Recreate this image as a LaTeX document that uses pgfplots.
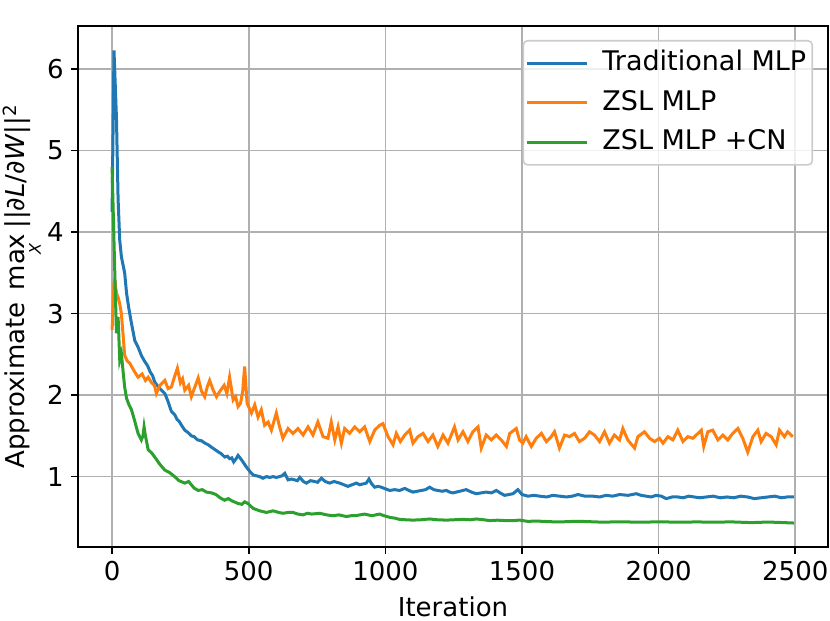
\documentclass[border=0pt]{standalone}
\usepackage{pgfplots}
\pgfplotsset{compat=1.18}
\usepackage{fontspec}
\setmainfont{DejaVu Sans}
\definecolor{C0}{HTML}{1F77B4}
\definecolor{C1}{HTML}{FF7F0E}
\definecolor{C2}{HTML}{2CA02C}
\definecolor{gridgray}{HTML}{B0B0B0}
\definecolor{leggray}{HTML}{CCCCCC}
\newcommand{\fs}{\fontsize{13}{15.6}\selectfont}
\newcommand{\lfs}{\fontsize{13.5}{16}\selectfont}
\newcommand{\maxX}{m\setbox0\hbox{ax}\rlap{ax}\makebox[\wd0]{\raisebox{-8pt}{\fontsize{8}{9}\selectfont\itshape X}}}
\begin{document}
\begin{tikzpicture}
\begin{axis}[
  scale only axis,
  width=375pt, height=260.5pt,
  xmin=-124.75, xmax=2619.75,
  ymin=0.136, ymax=6.53,
  xtick={0,500,1000,1500,2000,2500},
  ytick={1,2,3,4,5,6},
  xtick pos=bottom, ytick pos=left,
  tick align=outside,
  major tick length=3.5pt,
  every tick/.style={black, line width=0.8pt},
  axis line style={black, line width=0.8pt},
  grid=major,
  major grid style={gridgray, line width=0.8pt},
  /pgf/number format/assume math mode=true,
  /pgf/number format/1000 sep={},
  ticklabel style={font=\fs},
  xticklabel style={anchor=north, inner sep=0pt, yshift=-3.5pt},
  yticklabel style={anchor=east, inner sep=0pt, xshift=-3.5pt},
  xlabel={Iteration},
  xlabel style={font=\fs, at={(axis description cs:0.5,0)}, anchor=base, yshift=-34.5pt, inner sep=0pt},
  ylabel={Approximate\hspace{2pt} \maxX\hspace{2.5pt}||\textit{∂L}/\textit{∂W}||\textsuperscript{2}},
  ylabel style={font=\fs, at={(axis description cs:-0.0707,0.5)}, anchor=base, rotate=0, inner sep=0pt},
  legend cell align=left,
  legend style={font=\lfs, at={(axis description cs:1,1)}, anchor=north east, xshift=-7.5pt, yshift=-7pt,
    draw=leggray, line width=0.8pt, rounded corners=2pt, fill=white, fill opacity=0.8, text opacity=1,
    inner xsep=1pt, inner ysep=3pt, row sep=3.25pt, column sep=5pt,
    nodes={inner xsep=2pt, inner ysep=0pt, text height=12pt, text depth=4.5pt}},
  legend image code/.code={\path (0pt,0pt) -- (30pt,0pt); \draw[#1, line width=1.5pt] (2pt,0pt) -- (30pt,0pt);},
]
\addplot[C0, line width=1.5pt] coordinates {
(0,4.25) (7,6.23) (16,5.4) (22,4.4) (28,3.90) (34,3.70) (46,3.5) (53,3.25) (62,3.05) (71,2.88) (83,2.67) (95,2.59) (108,2.48) (120,2.41) (130,2.36) (140,2.28) (148,2.24) (156,2.16) (165,2.12) (175,2.08) (184,2.05) (193,2.02) (205,1.92) (217,1.80) (229,1.76) (238,1.70) (245,1.68) (256,1.62) (266,1.57) (278,1.54) (290,1.50) (300,1.49) (313,1.45) (327,1.44) (340,1.41) (352,1.39) (364,1.36) (377,1.33) (390,1.30) (400,1.28) (412,1.24) (422,1.25) (430,1.22) (438,1.23) (445,1.18) (454,1.22) (461,1.26) (468,1.23) (475,1.20) (483,1.16) (491,1.12) (505,1.06) (516,1.02) (528,1.01) (540,1.00) (552,0.98) (565,1.00) (577,0.99) (589,1.00) (601,0.99) (613,1.00) (622,1.01) (632,1.04) (644,0.96) (656,0.97) (668,0.96) (678,0.95) (687,0.99) (700,0.94) (711,0.92) (726,0.95) (741,0.94) (752,0.93) (766,0.98) (780,0.94) (796,0.92) (812,0.94) (833,0.92) (848,0.90) (863,0.88) (878,0.90) (894,0.92) (906,0.90) (918,0.91) (930,0.92) (940,0.97) (950,0.91) (961,0.87) (973,0.88) (985,0.87) (1000,0.85) (1016,0.83) (1034,0.84) (1052,0.83) (1071,0.855) (1086,0.83) (1101,0.81) (1116,0.82) (1132,0.83) (1147,0.84) (1162,0.87) (1177,0.84) (1192,0.83) (1208,0.82) (1223,0.83) (1235,0.81) (1247,0.80) (1272,0.82) (1296,0.84) (1315,0.81) (1333,0.79) (1350,0.80) (1369,0.81) (1388,0.80) (1406,0.83) (1420,0.80) (1436,0.77) (1452,0.78) (1467,0.79) (1485,0.84) (1500,0.78) (1522,0.76) (1543,0.77) (1565,0.76) (1590,0.75) (1613,0.77) (1638,0.76) (1662,0.75) (1684,0.76) (1705,0.78) (1730,0.76) (1759,0.76) (1784,0.75) (1808,0.77) (1832,0.76) (1857,0.78) (1888,0.77) (1918,0.79) (1936,0.77) (1954,0.76) (1972,0.75) (1991,0.77) (2010,0.76) (2028,0.73) (2050,0.75) (2070,0.75) (2090,0.74) (2110,0.76) (2130,0.75) (2150,0.74) (2175,0.75) (2200,0.76) (2225,0.74) (2250,0.75) (2275,0.74) (2300,0.76) (2325,0.75) (2350,0.73) (2375,0.74) (2400,0.75) (2425,0.76) (2450,0.74) (2470,0.75) (2495,0.75)
};
\addlegendentry{Traditional MLP}
\addplot[C1, line width=1.5pt] coordinates {
(0,2.80) (7,3.37) (10,3.41) (16,3.25) (22,3.20) (28,3.12) (34,3.00) (40,2.75) (46,2.49) (55,2.42) (65,2.39) (80,2.30) (95,2.22) (110,2.26) (122,2.18) (132,2.22) (145,2.15) (155,2.12) (162,2.02) (175,2.12) (193,2.18) (205,2.08) (217,2.10) (228,2.22) (239,2.33) (250,2.15) (258,2.20) (266,2.06) (280,2.12) (290,1.98) (303,2.10) (315,2.21) (327,2.05) (339,1.98) (348,2.10) (357,2.18) (370,2.06) (382,1.98) (395,2.05) (410,2.12) (420,2.02) (430,2.22) (443,1.94) (452,1.98) (461,1.86) (470,1.90) (478,2.05) (485,2.35) (490,2.10) (494,1.90) (510,1.78) (522,1.88) (534,1.73) (546,1.82) (558,1.63) (571,1.67) (583,1.57) (601,1.78) (613,1.61) (625,1.47) (644,1.59) (662,1.53) (680,1.59) (699,1.51) (717,1.61) (735,1.51) (753,1.67) (772,1.49) (790,1.47) (802,1.67) (815,1.45) (827,1.61) (839,1.41) (851,1.59) (869,1.53) (888,1.61) (906,1.55) (924,1.61) (943,1.43) (961,1.57) (979,1.63) (991,1.65) (1010,1.49) (1028,1.39) (1040,1.53) (1055,1.43) (1071,1.51) (1089,1.57) (1101,1.41) (1119,1.49) (1138,1.53) (1156,1.43) (1174,1.51) (1192,1.37) (1211,1.51) (1229,1.41) (1253,1.61) (1266,1.45) (1284,1.55) (1302,1.43) (1320,1.55) (1339,1.61) (1351,1.35) (1369,1.51) (1388,1.45) (1406,1.51) (1424,1.45) (1443,1.37) (1455,1.53) (1479,1.59) (1491,1.45) (1503,1.41) (1515,1.49) (1534,1.37) (1552,1.47) (1571,1.53) (1589,1.43) (1607,1.49) (1619,1.55) (1637,1.35) (1656,1.51) (1674,1.49) (1692,1.53) (1710,1.43) (1729,1.47) (1747,1.55) (1765,1.51) (1784,1.43) (1802,1.55) (1820,1.41) (1838,1.51) (1857,1.45) (1869,1.59) (1887,1.45) (1912,1.35) (1924,1.49) (1948,1.55) (1967,1.47) (1985,1.43) (2003,1.47) (2016,1.41) (2034,1.49) (2052,1.45) (2070,1.57) (2089,1.43) (2107,1.49) (2125,1.47) (2144,1.53) (2156,1.57) (2165,1.37) (2180,1.55) (2198,1.57) (2217,1.45) (2235,1.51) (2253,1.45) (2271,1.53) (2290,1.59) (2308,1.47) (2326,1.30) (2345,1.49) (2363,1.57) (2375,1.43) (2393,1.53) (2412,1.49) (2430,1.39) (2442,1.57) (2460,1.49) (2472,1.55) (2491,1.49)
};
\addlegendentry{ZSL MLP}
\addplot[C2, line width=1.5pt] coordinates {
(0,4.80) (10,3.49) (16,2.76) (22,2.96) (28,2.43) (34,2.51) (40,2.30) (46,2.10) (53,1.96) (62,1.88) (71,1.82) (83,1.68) (95,1.53) (107,1.45) (113,1.50) (117,1.61) (122,1.50) (132,1.33) (145,1.29) (156,1.24) (175,1.15) (193,1.08) (210,1.05) (229,1.00) (245,0.95) (266,0.92) (280,0.94) (300,0.86) (315,0.83) (330,0.84) (345,0.81) (364,0.80) (380,0.78) (395,0.74) (412,0.71) (425,0.73) (440,0.70) (461,0.67) (475,0.66) (485,0.69) (497,0.67) (516,0.61) (540,0.58) (565,0.56) (589,0.58) (610,0.56) (625,0.55) (645,0.56) (662,0.56) (680,0.54) (699,0.53) (715,0.55) (730,0.54) (760,0.55) (785,0.53) (808,0.52) (830,0.53) (857,0.51) (875,0.52) (890,0.52) (924,0.54) (950,0.52) (979,0.54) (995,0.52) (1016,0.50) (1035,0.49) (1052,0.475) (1075,0.47) (1101,0.466) (1130,0.47) (1162,0.48) (1190,0.47) (1223,0.466) (1250,0.47) (1284,0.475) (1310,0.47) (1333,0.48) (1360,0.47) (1382,0.46) (1410,0.465) (1443,0.46) (1470,0.46) (1491,0.466) (1522,0.45) (1550,0.455) (1580,0.45) (1615,0.445) (1650,0.445) (1685,0.45) (1720,0.45) (1760,0.445) (1800,0.44) (1840,0.445) (1880,0.445) (1915,0.44) (1950,0.44) (1985,0.445) (2020,0.445) (2060,0.44) (2100,0.44) (2140,0.445) (2180,0.44) (2220,0.44) (2260,0.445) (2300,0.44) (2340,0.435) (2380,0.44) (2420,0.44) (2460,0.435) (2495,0.43)
};
\addlegendentry{ZSL MLP +CN}
\node[anchor=base west, inner sep=0pt, font=\fs] at (axis description cs:0,1) [xshift=1pt, yshift=2.5pt] {1e−6};
\end{axis}
\pgfresetboundingbox
\useasboundingbox (-39pt,-37pt) rectangle (376pt,273.5pt);
\end{tikzpicture}
\end{document}
